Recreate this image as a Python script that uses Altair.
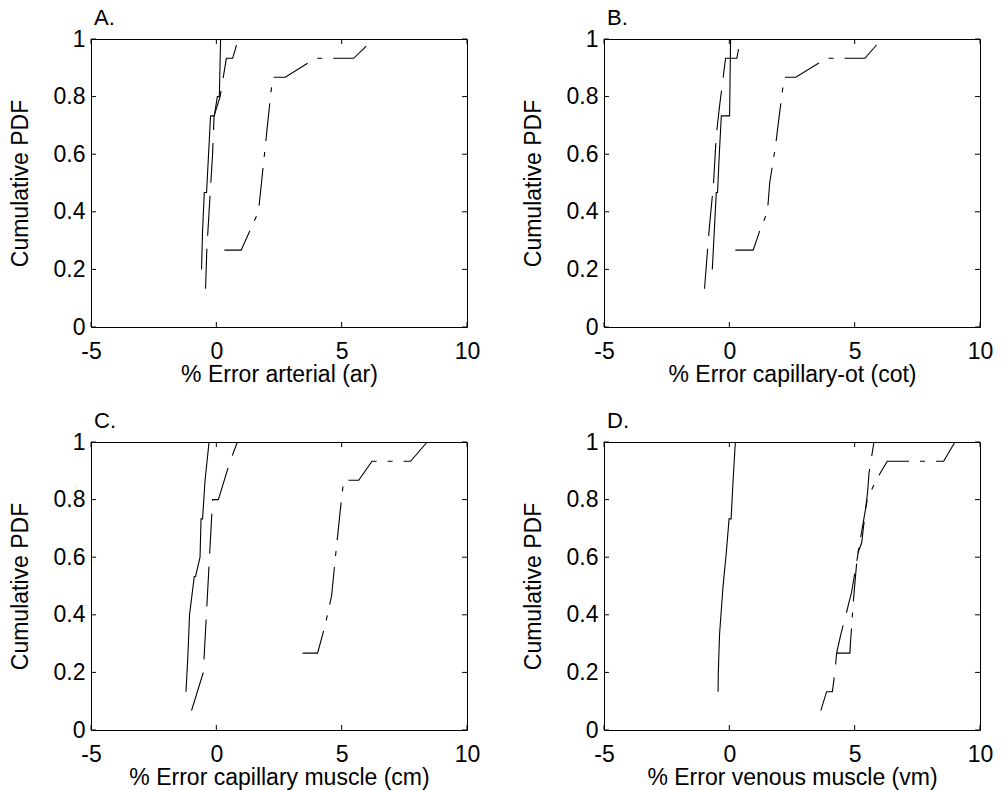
import altair as alt
import pandas as pd

FONT = "Liberation Sans"

# ---- Panel A: % Error arterial (ar)
A_solid_x = [-0.59, -0.55, -0.48, -0.39, -0.23, -0.08, 0.04, 0.12, 0.17]
A_solid_y = [0.2, 0.333, 0.467, 0.467, 0.733, 0.733, 0.8, 0.8, 1.0]
A_dash_x = [-0.43, -0.38, -0.29, -0.15, -0.09, 0.15, 0.4, 0.65, 0.88]
A_dash_y = [0.133, 0.267, 0.4, 0.6, 0.733, 0.8, 0.933, 0.933, 1.0]
A_dd_x = [0.32, 0.99, 1.68, 1.84, 2.0, 2.16, 2.25, 2.75, 3.95, 5.48, 6.28]
A_dd_y = [0.267, 0.267, 0.4, 0.533, 0.667, 0.8, 0.867, 0.867, 0.933, 0.933, 1.0]

# ---- Panel B: % Error capillary-ot (cot)
B_solid_x = [-0.68, -0.6, -0.52, -0.47, -0.4, -0.32, 0.01, 0.05]
B_solid_y = [0.2, 0.333, 0.467, 0.467, 0.6, 0.733, 0.733, 1.0]
B_dash_x = [-0.99, -0.87, -0.81, -0.63, -0.52, -0.39, -0.15, 0.3, 0.44]
B_dash_y = [0.133, 0.267, 0.333, 0.5, 0.667, 0.767, 0.933, 0.933, 1.0]
B_dd_x = [0.24, 0.95, 1.21, 1.52, 1.61, 1.85, 1.99, 2.19, 2.65, 3.88, 5.41, 6.08]
B_dd_y = [0.267, 0.267, 0.333, 0.4, 0.5, 0.633, 0.733, 0.867, 0.867, 0.933, 0.933, 1.0]

# ---- Panel C: % Error capillary muscle (cm)
C_solid_x = [-1.21, -1.13, -1.07, -0.88, -0.83, -0.65, -0.61, -0.55, -0.45, -0.29]
C_solid_y = [0.133, 0.267, 0.4, 0.533, 0.533, 0.6, 0.733, 0.733, 0.867, 1.0]
C_dash_x = [-0.99, -0.52, -0.15, 0.08, 0.55, 0.84]
C_dash_y = [0.067, 0.2, 0.8, 0.8, 0.933, 1.0]
C_dd_x = [3.44, 4.04, 4.35, 4.6, 4.75, 4.95, 5.08, 5.68, 6.21, 7.75, 8.41]
C_dd_y = [0.267, 0.267, 0.367, 0.467, 0.6, 0.767, 0.867, 0.867, 0.933, 0.933, 1.0]

# ---- Panel D: % Error venous muscle (vm)
D_solid_x = [-0.45, -0.44, -0.39, -0.25, -0.12, -0.01, 0.07, 0.15, 0.24]
D_solid_y = [0.133, 0.2, 0.333, 0.5, 0.617, 0.733, 0.733, 0.867, 1.0]
D_dash_x = [3.65, 3.88, 4.11, 4.21, 4.28, 4.45, 4.65, 4.88, 5.15, 5.28, 5.52, 5.57, 5.77]
D_dash_y = [0.067, 0.133, 0.133, 0.2, 0.267, 0.333, 0.4, 0.48, 0.62, 0.65, 0.83, 0.89, 1.0]
D_dd_x = [4.28, 4.81, 4.83, 4.95, 5.1, 5.3, 5.5, 5.85, 6.3, 8.55, 9.0]
D_dd_y = [0.267, 0.267, 0.3, 0.45, 0.6, 0.7, 0.8, 0.867, 0.933, 0.933, 1.0]

panel_letters = ["A.", "B.", "C.", "D."]
x_titles = ["% Error arterial (ar)", "% Error capillary-ot (cot)",
            "% Error capillary muscle (cm)", "% Error venous muscle (vm)"]
x_ticks = [-5, 0, 5, 10]
y_ticks = [0, 0.2, 0.4, 0.6, 0.8, 1]
series_names = ["solid", "dashed", "dashdot"]

W, H = 376, 288
TICK = 5
FS = 23

axis_style = dict(labelFont=FONT, titleFont=FONT, labelFontSize=FS,
                  titleFontSize=FS, labelColor="black", titleColor="black",
                  titleFontWeight="normal", ticks=False, domain=False,
                  grid=False, labelOverlap=False,
                  labelExpr="'' + datum.value")


def make_df(sx, sy, dx, dy, ddx, ddy):
    rows = []
    for name, xs, ys in zip(series_names, [sx, dx, ddx], [sy, dy, ddy]):
        for i, (x, y) in enumerate(zip(xs, ys)):
            rows.append({"x": x, "y": y, "series": name, "i": i})
    return pd.DataFrame(rows)


xscale = alt.Scale(domain=[-5, 10], nice=False, zero=False)
yscale = alt.Scale(domain=[0, 1], nice=False, zero=False)


def panel(df, letter, xtitle):
    X = alt.X("x:Q", scale=xscale, title=xtitle,
              axis=alt.Axis(values=x_ticks, labelFlush=False,
                            labelPadding=13, titlePadding=0, **axis_style))
    Y = alt.Y("y:Q", scale=yscale, title="Cumulative PDF",
              axis=alt.Axis(values=y_ticks, labelPadding=6, titlePadding=21,
                            **axis_style))
    lines = alt.Chart(df).mark_line(color="black", strokeWidth=1.1).encode(
        x=X, y=Y,
        detail="series:N",
        order=alt.Order("i:Q"),
        strokeDash=alt.StrokeDash(
            "series:N",
            scale=alt.Scale(domain=series_names,
                            range=[[1, 0], [40, 13], [38, 11, 5, 11]]),
            legend=None),
    )
    xt = pd.DataFrame({"x": x_ticks})
    yt = pd.DataFrame({"y": y_ticks})
    xb = alt.Chart(xt).mark_rule(color="black", strokeWidth=1).encode(
        x=X, y=alt.value(H), y2=alt.value(H - TICK))
    xtp = alt.Chart(xt).mark_rule(color="black", strokeWidth=1).encode(
        x=X, y=alt.value(0), y2=alt.value(TICK))
    yl = alt.Chart(yt).mark_rule(color="black", strokeWidth=1).encode(
        y=Y, x=alt.value(0), x2=alt.value(TICK))
    yr = alt.Chart(yt).mark_rule(color="black", strokeWidth=1).encode(
        y=Y, x=alt.value(W), x2=alt.value(W - TICK))
    return alt.layer(lines, xb, xtp, yl, yr).properties(
        width=W, height=H,
        view=alt.ViewBackground(stroke="black", strokeWidth=1),
        title=alt.TitleParams(letter, anchor="start", frame="group",
                              font=FONT, fontSize=22, fontWeight="normal",
                              color="black", offset=-2, dx=3),
    )


pA = panel(make_df(A_solid_x, A_solid_y, A_dash_x, A_dash_y, A_dd_x, A_dd_y),
           panel_letters[0], x_titles[0])
pB = panel(make_df(B_solid_x, B_solid_y, B_dash_x, B_dash_y, B_dd_x, B_dd_y),
           panel_letters[1], x_titles[1])
pC = panel(make_df(C_solid_x, C_solid_y, C_dash_x, C_dash_y, C_dd_x, C_dd_y),
           panel_letters[2], x_titles[2])
pD = panel(make_df(D_solid_x, D_solid_y, D_dash_x, D_dash_y, D_dd_x, D_dd_y),
           panel_letters[3], x_titles[3])

chart = alt.vconcat(
    alt.hconcat(pA, pB, spacing=40),
    alt.hconcat(pC, pD, spacing=40),
    spacing=22,
).properties(
    padding={"left": 8, "top": 6, "right": 5, "bottom": 5},
    background="white",
)

chart.save("out.html", embed_options={"renderer": "svg", "actions": False})
